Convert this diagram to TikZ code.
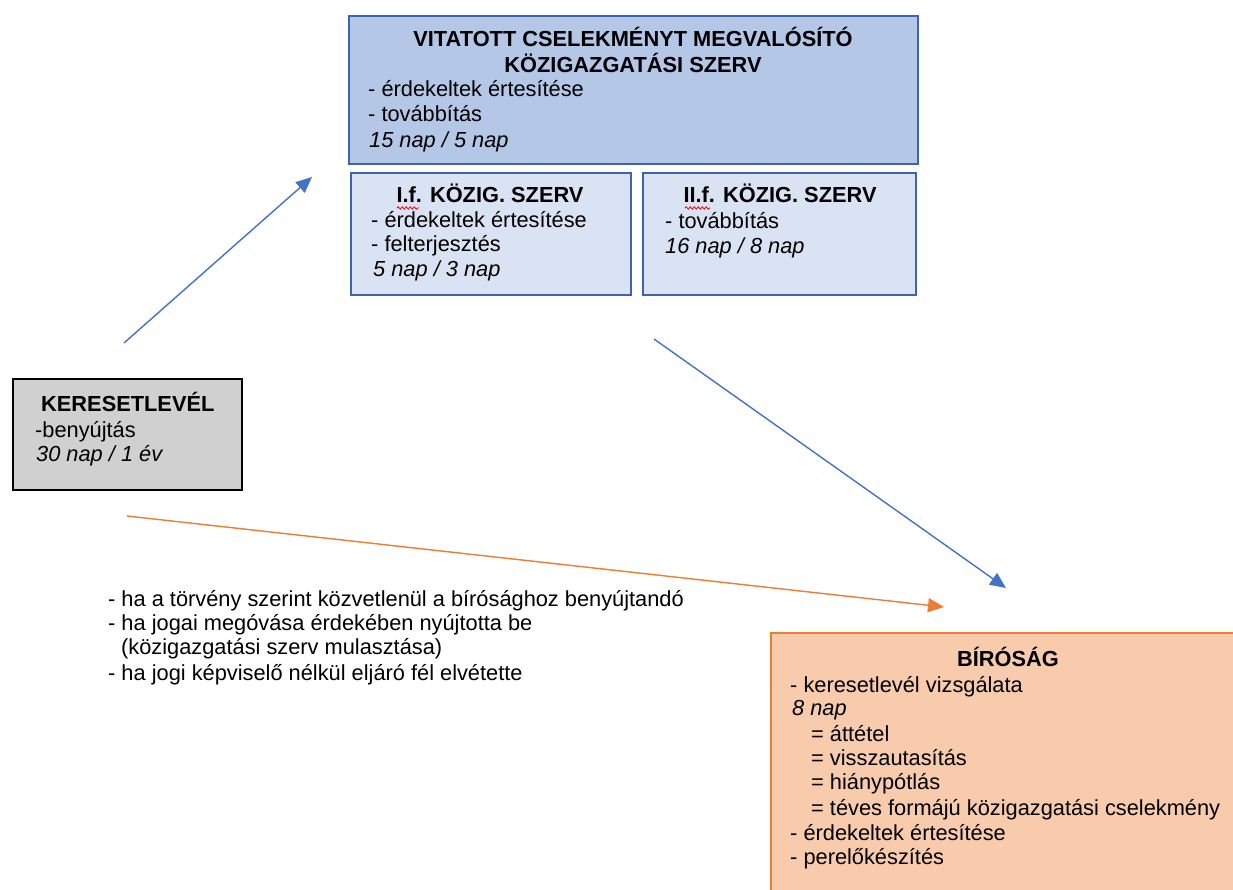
\documentclass[tikz,border=0pt]{standalone}
\usepackage{fontspec}
\setmainfont{Liberation Sans}
\usetikzlibrary{arrows.meta,decorations.pathmorphing}
\definecolor{topfill}{HTML}{B4C7E7}
\definecolor{subfill}{HTML}{DAE3F3}
\definecolor{blueline}{HTML}{3E64B0}
\definecolor{grayfill}{HTML}{D0D0D0}
\definecolor{orfill}{HTML}{F8CBAD}
\definecolor{orline}{HTML}{ED7D31}
\definecolor{arrblue}{HTML}{4472C4}
\begin{document}
\begin{tikzpicture}[x=1pt,y=-1pt,
  box/.style={draw, line width=2pt, inner sep=0pt},
  txt/.style={anchor=base west, inner sep=0pt, font=\fontsize{21.8}{26}\selectfont},
  ttl/.style={anchor=base, inner sep=0pt, font=\fontsize{21.8}{26}\selectfont\bfseries},
  conn/.style={line width=1.4pt, -{Triangle[length=16pt,width=14pt]}},
  squiggle/.style={draw=red, line width=0.8pt, decorate, decoration={snake, amplitude=1.2pt, segment length=4pt}}
]
\useasboundingbox (0,0) rectangle (1233,890);
% boxes
\node[box, draw=blueline, fill=topfill, minimum width=569pt, minimum height=148pt, anchor=north west] (top) at (348,15) {};
\node[box, draw=blueline, fill=subfill, minimum width=280pt, minimum height=122pt, anchor=north west] (sub1) at (350,172) {};
\node[box, draw=blueline, fill=subfill, minimum width=273pt, minimum height=122pt, anchor=north west] (sub2) at (642,172) {};
\node[box, draw=black, fill=grayfill, minimum width=229pt, minimum height=111pt, anchor=north west] (ker) at (12,378) {};
\node[box, draw=orline, fill=orfill, minimum width=475pt, minimum height=270pt, anchor=north west] (bir) at (770,632) {};
% top box text
\node[ttl] (t1) at (633,47) {VITATOTT CSELEKMÉNYT MEGVALÓSÍTÓ};
\node[ttl] (t2) at (633,73) {KÖZIGAZGATÁSI SZERV};
\node[txt] (t3) at (368,97) {- érdekeltek értesítése};
\node[txt] (t4) at (368,122) {- továbbítás};
\node[txt] (t5) at (369,148) {\itshape 15 nap / 5 nap};
% sub1
\node[ttl] (s1) at (490,203) {I.f. KÖZIG. SZERV};
\node[txt] (s2) at (371,228) {- érdekeltek értesítése};
\node[txt] (s3) at (371,252) {- felterjesztés};
\node[txt] (s4) at (373,277) {\itshape 5 nap / 3 nap};
% sub2
\node[ttl] (u1) at (780,203) {II.f. KÖZIG. SZERV};
\node[txt] (u2) at (665,229) {- továbbítás};
\node[txt] (u3) at (665,254) {\itshape 16 nap / 8 nap};
% spell-check squiggles
\draw[squiggle] (397,208) -- (419,208);
\draw[squiggle] (685,208) -- (710,208);
% keresetlevel
\node[txt, font=\fontsize{21.8}{26}\selectfont\bfseries] (k1) at (41,411) {KERESETLEVÉL};
\node[txt] (k2) at (35,437) {-benyújtás};
\node[txt] (k3) at (36,461) {\itshape 30 nap / 1 év};
% birosag
\node[ttl] (b0) at (1008,666) {BÍRÓSÁG};
\node[txt] (b1) at (790,692) {- keresetlevél vizsgálata};
\node[txt] (b2) at (792,715) {\itshape 8 nap};
\node[txt] (b3) at (811,741) {= áttétel};
\node[txt] (b4) at (811,765) {= visszautasítás};
\node[txt] (b5) at (811,789) {= hiánypótlás};
\node[txt] (b6) at (811,815) {= téves formájú közigazgatási cselekmény};
\node[txt] (b7) at (790,840) {- érdekeltek értesítése};
\node[txt] (b8) at (790,864) {- perelőkészítés};
% free text
\node[txt] (f1) at (108,606) {- ha a törvény szerint közvetlenül a bírósághoz benyújtandó};
\node[txt] (f2) at (108,630) {- ha jogai megóvása érdekében nyújtotta be};
\node[txt] (f3) at (121,654) {(közigazgatási szerv mulasztása)};
\node[txt] (f4) at (108,680) {- ha jogi képviselő nélkül eljáró fél elvétette};
% connectors (free ends)
\coordinate (a1s) at (124,343);
\coordinate (a1e) at (312,177);
\coordinate (a2s) at (654,339);
\coordinate (a2e) at (1006,588);
\coordinate (a3s) at (127,516);
\coordinate (a3e) at (944,607);
\draw[conn, draw=arrblue, fill=arrblue] (a1s) -- (a1e);
\draw[conn, draw=arrblue, fill=arrblue] (a2s) -- (a2e);
\draw[conn, draw=orline, fill=orline] (a3s) -- (a3e);
\end{tikzpicture}
\end{document}
